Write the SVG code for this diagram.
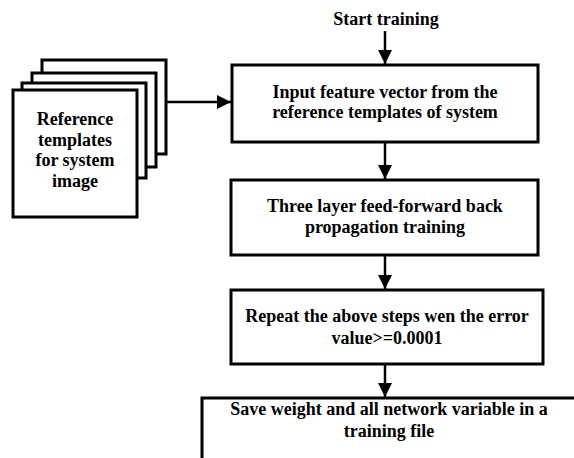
<svg xmlns="http://www.w3.org/2000/svg" width="574" height="458" viewBox="0 0 574 458">
<style>
.box{fill:#fff;stroke:#000;stroke-width:3}
.t{font-family:"Liberation Serif","Times New Roman",serif;font-weight:bold;font-size:18px;fill:#000;text-anchor:middle}
.c{fill:none;stroke:#000;stroke-width:2.5}
</style>
<defs>
<marker id="ah" markerUnits="userSpaceOnUse" viewBox="0 0 14 14" markerWidth="14" markerHeight="14" refX="14" refY="7" orient="auto">
<path d="M0,0 L14,7 L0,14 Z" fill="#000"/>
</marker>
</defs>
<g id="templates">
<rect class="box" x="42" y="60" width="124" height="94"/>
<rect class="box" x="32" y="73" width="124" height="94"/>
<rect class="box" x="22" y="83" width="124" height="95"/>
<rect class="box" x="13" y="90" width="124" height="127"/>
<text class="t" x="75" y="125">Reference</text>
<text class="t" x="75" y="146">templates</text>
<text class="t" x="75" y="166">for system</text>
<text class="t" x="75" y="187">image</text>
</g>
<g id="start">
<text class="t" x="386" y="25">Start training</text>
</g>
<g id="input">
<rect class="box" x="232" y="65" width="306" height="77"/>
<text class="t" x="385" y="98">Input feature vector from the</text>
<text class="t" x="385" y="118">reference templates of system</text>
</g>
<g id="threelayer">
<rect class="box" x="231" y="180" width="307" height="75"/>
<text class="t" x="385" y="212">Three layer feed-forward back</text>
<text class="t" x="385" y="233">propagation training</text>
</g>
<g id="repeat">
<rect class="box" x="231" y="290" width="312" height="74"/>
<text class="t" x="387" y="322">Repeat the above steps wen the error</text>
<text class="t" x="387" y="344">value&gt;=0.0001</text>
</g>
<g id="save">
<rect class="box" x="202" y="398" width="380" height="70"/>
<text class="t" x="389" y="415">Save weight and all network variable in a</text>
<text class="t" x="389" y="437">training file</text>
</g>
<g id="connectors">
<line class="c" x1="385" y1="31" x2="385" y2="64" marker-end="url(#ah)"/>
<line class="c" x1="167" y1="102" x2="231" y2="102" marker-end="url(#ah)"/>
<line class="c" x1="385" y1="143" x2="385" y2="179" marker-end="url(#ah)"/>
<line class="c" x1="385" y1="256" x2="385" y2="289" marker-end="url(#ah)"/>
<line class="c" x1="385" y1="365" x2="385" y2="397" marker-end="url(#ah)"/>
</g>
</svg>
